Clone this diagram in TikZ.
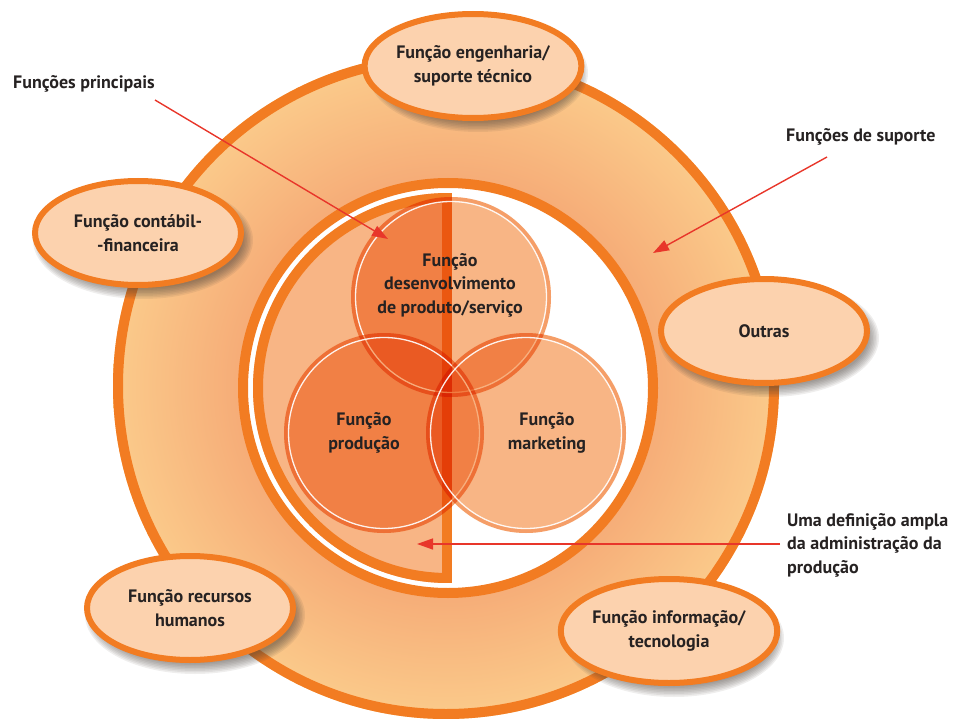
\documentclass[tikz,border=0pt]{standalone}
\usepackage{fontspec}
\setmainfont{PT Sans}
\usetikzlibrary{shapes.geometric,arrows.meta,calc}
\definecolor{orng}{HTML}{F27C22}
\definecolor{ringin}{HTML}{F6AD78}
\definecolor{ringout}{HTML}{FBCB8B}
\definecolor{ellfill}{HTML}{FCD2AE}
\definecolor{halffill}{HTML}{F8B585}
\definecolor{venncol}{HTML}{F8B585}
\definecolor{vennband}{HTML}{FCE0C8}
\definecolor{arrred}{HTML}{E8362A}
\definecolor{txtcol}{HTML}{262222}
\definecolor{shadowcol}{HTML}{4A423C}
\pgfdeclareradialshading{ringshade}{\pgfpoint{0bp}{0bp}}{color(0bp)=(ringin); color(15.8bp)=(ringin); color(25bp)=(ringout); color(50bp)=(ringout)}
\newcommand\ellshadow[1]{\foreach \k in {0,...,7}{\fill[shadowcol,opacity=0.09] ($(#1)+(5,7)$) ellipse[x radius=110-1.5*\k, y radius=59-1.5*\k];}}
\tikzset{
 lblfont/.style={font=\fontsize{18bp}{23.5bp}\selectfont\bfseries, text=txtcol},
 ellbox/.style={ellipse, draw=orng, line width=6bp, fill=ellfill, minimum width=206bp, minimum height=104bp, align=center, inner sep=0pt, lblfont},
 lbltext/.style={lblfont, inner sep=0pt, align=left},
 venntext/.style={lblfont, inner sep=0pt, align=center},
 vennfill/.style={fill=venncol, blend mode=multiply},
 vennedge/.style={draw=vennband, line width=4bp, blend mode=multiply},
 vennline/.style={draw=white, line width=1.3bp, opacity=0.9},
 redarrow/.style={draw=arrred, line width=1.4bp, -{Triangle[length=16bp, width=11bp]}},
 bandline/.style={draw=orng, line width=10bp},
}
\begin{document}
\begin{tikzpicture}[x=1bp,y=-1bp]
\useasboundingbox (0,0) rectangle (962,719);
\coordinate (C) at (446,386);
\coordinate (Ci) at (448,388);
% big ring
\shade[shading=ringshade] (C) circle[radius=333];
\draw[bandline] (C) circle[radius=328];
\draw[bandline, fill=white] (Ci) circle[radius=205];
% half disc
\begin{scope}
\clip (0,0) rectangle (447,719);
\fill[halffill] (Ci) circle[radius=195];
\draw[bandline] (Ci) circle[radius=190];
\end{scope}
\fill[orng] (442,193) rectangle (452,583);
% venn circles
\coordinate (vtc) at (451,297);
\coordinate (vlc) at (384,433);
\coordinate (vrc) at (526,433);
\foreach \c in {vtc,vlc,vrc}{
  \fill[vennfill] (\c) circle[radius=100];
  \draw[vennedge] (\c) circle[radius=98];
  \draw[vennline] (\c) circle[radius=95.5];
}
\node[venntext] (vt) at (450,285) {Função\\desenvolvimento\\de produto/serviço};
\node[venntext] (vl) at (364,433) {Função\\produção};
\node[venntext] (vr) at (547,433) {Função\\marketing};
% ellipses
\coordinate (e1c) at (473,66);
\coordinate (e2c) at (138,233);
\coordinate (e3c) at (764,331);
\coordinate (e4c) at (190,608);
\coordinate (e5c) at (669,631);
\ellshadow{e1c}\ellshadow{e2c}\ellshadow{e3c}\ellshadow{e4c}\ellshadow{e5c}
\node[ellbox] (e1) at (e1c) {Função engenharia/\\suporte técnico};
\node[ellbox] (e2) at (e2c) {Função contábil-\\-financeira};
\node[ellbox] (e3) at (e3c) {Outras};
\node[ellbox] (e4) at (e4c) {Função recursos\\humanos};
\node[ellbox] (e5) at (e5c) {Função informação/\\tecnologia};
% labels
\node[lbltext, anchor=base west] (lp) at (13,89) {Funções principais};
\node[lbltext, anchor=base west] (ls) at (786,142) {Funções de suporte};
\node[lbltext, anchor=north west] (ld) at (787,513) {Uma definição ampla\\da administração da\\produção};
% arrows
\coordinate (a1s) at (155,100); \coordinate (a1e) at (388,239);
\coordinate (a2s) at (827,157); \coordinate (a2e) at (653,253);
\coordinate (a3s) at (780,544); \coordinate (a3e) at (417,544);
\draw[redarrow] (a1s) -- (a1e);
\draw[redarrow] (a2s) -- (a2e);
\draw[redarrow] (a3s) -- (a3e);
\end{tikzpicture}
\end{document}
